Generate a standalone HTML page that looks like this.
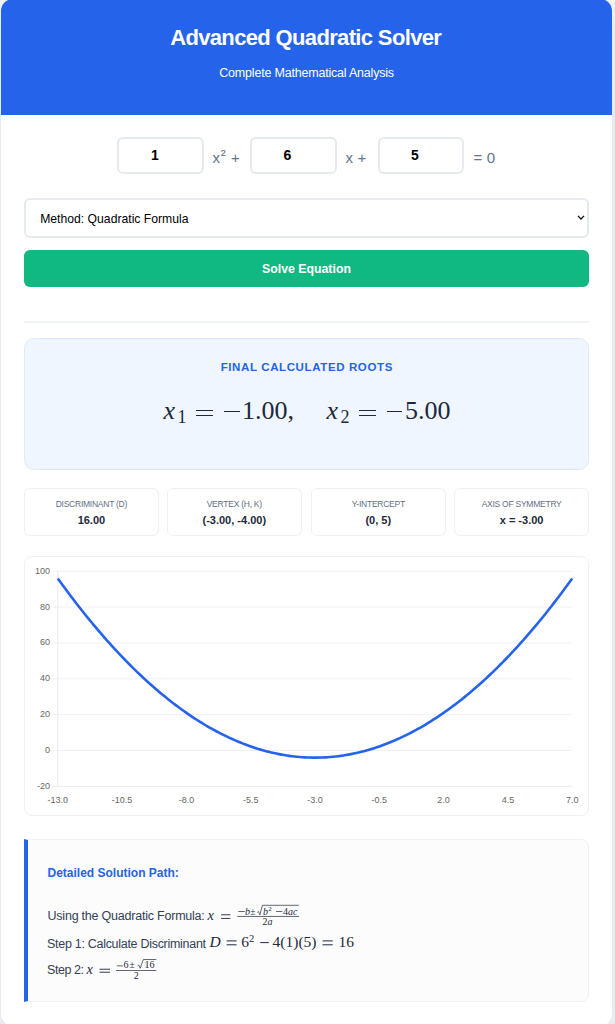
<!DOCTYPE html>
<html><head><meta charset="utf-8">
<style>
*{box-sizing:border-box;margin:0;padding:0}
html,body{width:615px;height:1024px;overflow:hidden}
body{background:#f3f4f6;font-family:"Liberation Sans",sans-serif;position:relative}
.a{position:absolute;white-space:pre}
.wrap{position:absolute;left:1px;top:-1px;width:611px;height:1027px;background:#fff;border-radius:12px;overflow:hidden;box-shadow:0 10px 25px rgba(30,41,59,0.09)}
.hdr{position:absolute;left:1px;top:-1px;width:611px;height:116.2px;background:#2563eb;border-radius:12px 12px 0 0}
.t1{left:0;width:613px;text-align:center;color:#fff}
.inp{position:absolute;top:137.3px;width:86.5px;height:37px;border:2px solid #e5eaf1;border-radius:6px;background:#fff}
.dig{font-weight:bold;font-size:14px;line-height:14px;color:#000}
.op{font-size:15px;line-height:15px;color:#64748b;letter-spacing:0.2px}
.sel{position:absolute;left:24px;top:197.6px;width:565px;height:40.3px;border:2px solid #e5eaf1;border-radius:6px;background:#fff}
.btn{position:absolute;left:24px;top:250px;width:565px;height:37px;border-radius:6px;background:#10b981}
.hr{position:absolute;left:24px;top:321.3px;width:565px;height:1.5px;background:#f0f3f7}
.roots{position:absolute;left:24px;top:338.2px;width:565px;height:131.4px;background:#eff6ff;border:1px solid #dfeafc;border-radius:10px}
.m{font-family:"Liberation Serif",serif;color:#1e293b}
.card{position:absolute;top:488.1px;width:134.6px;height:48.1px;border:1px solid #eef0f4;border-radius:6px;background:#fff}
.lbl{font-size:8.5px;line-height:8px;color:#5f6f86;text-align:center;letter-spacing:-0.25px}
.val{font-size:11px;line-height:11px;font-weight:bold;color:#1e293b;text-align:center}
.chart{position:absolute;left:24px;top:555.5px;width:565px;height:260px;border:1px solid #eef0f4;border-radius:8px;background:#fff}
.sol{position:absolute;left:24px;top:838.7px;width:565px;height:163px;background:#fcfcfd;border:1px solid #f0f1f4;border-left:4px solid #2563eb;border-radius:0 8px 8px 0}
.sh{font-size:12px;line-height:12px;font-weight:bold;color:#2563eb;letter-spacing:0px}
.st{font-size:12.5px;line-height:13px;color:#334155;letter-spacing:-0.22px}
</style></head><body>
<div class="wrap"></div>
<div class="hdr"></div>
<div class="a t1" style="top:25px;left:-0.8px;font-size:22px;line-height:26px;font-weight:bold;letter-spacing:-0.65px">Advanced Quadratic Solver</div>
<div class="a t1" style="top:65px;font-size:12.5px;line-height:16px;letter-spacing:-0.2px;padding-left:0.2px">Complete Mathematical Analysis</div>

<div class="inp" style="left:117.1px"></div>
<div class="inp" style="left:250.2px"></div>
<div class="inp" style="left:377.6px"></div>
<div class="a dig" style="left:151px;top:148px">1</div>
<div class="a dig" style="left:283.5px;top:148px">6</div>
<div class="a dig" style="left:411px;top:148px">5</div>
<div class="a op" style="left:212.5px;top:149.5px">x</div>
<div class="a op" style="left:220.8px;top:145.5px;font-size:9px;-webkit-text-stroke:0.2px #64748b">2</div>
<div class="a op" style="left:231px;top:149.5px">+</div>
<div class="a op" style="left:345.5px;top:149.5px">x +</div>
<div class="a op" style="left:473.5px;top:149.5px">= 0</div>

<div class="sel"></div>
<div class="a" style="left:40.2px;top:212.6px;font-size:12.2px;line-height:13px;color:#000">Method: Quadratic Formula</div>
<svg class="a" style="left:576.2px;top:214.3px" width="10" height="8" viewBox="0 0 10 8"><path d="M1.9 1.9 L5 5 L8.1 1.9" fill="none" stroke="#111" stroke-width="1.25"/></svg>
<div class="btn"></div>
<div class="a t1" style="top:262.6px;font-size:12.3px;line-height:13px;font-weight:bold">Solve Equation</div>
<div class="hr"></div>

<div class="roots"></div>

<div class="a" style="left:0;width:613px;text-align:center;top:361px;font-size:11.5px;line-height:12px;font-weight:bold;color:#2563eb;letter-spacing:0.62px;padding-left:0.6px">FINAL CALCULATED ROOTS</div>
<div class="a m" style="left:163.5px;top:396px;font-size:26px;line-height:30px;font-style:italic">x</div>
<div class="a m" style="left:177.5px;top:407px;font-size:18px;line-height:20px">1</div>
<div class="a" style="left:196px;top:409.6px;width:17px;height:1.2px;background:#1e293b"></div>
<div class="a" style="left:196px;top:414.6px;width:17px;height:1.2px;background:#1e293b"></div>
<div class="a" style="left:224px;top:411.3px;width:15.5px;height:1.2px;background:#1e293b"></div>
<div class="a m" style="left:242px;top:396px;font-size:26px;line-height:30px">1.00,</div>
<div class="a m" style="left:326.5px;top:396px;font-size:26px;line-height:30px;font-style:italic">x</div>
<div class="a m" style="left:340.5px;top:407px;font-size:18px;line-height:20px">2</div>
<div class="a" style="left:359px;top:409.6px;width:17px;height:1.2px;background:#1e293b"></div>
<div class="a" style="left:359px;top:414.6px;width:17px;height:1.2px;background:#1e293b"></div>
<div class="a" style="left:387px;top:411.3px;width:15px;height:1.2px;background:#1e293b"></div>
<div class="a m" style="left:405px;top:396px;font-size:26px;line-height:30px">5.00</div>


<div class="card" style="left:24.1px"></div>
<div class="card" style="left:167px"></div>
<div class="card" style="left:311px"></div>
<div class="card" style="left:454.3px"></div>
<div class="a lbl" style="left:24.1px;width:134.6px;top:500px">DISCRIMINANT (D)</div><div class="a val" style="left:24.1px;width:134.6px;top:515px">16.00</div><div class="a lbl" style="left:167px;width:134.6px;top:500px">VERTEX (H, K)</div><div class="a val" style="left:167px;width:134.6px;top:515px">(-3.00, -4.00)</div><div class="a lbl" style="left:311px;width:134.6px;top:500px">Y-INTERCEPT</div><div class="a val" style="left:311px;width:134.6px;top:515px">(0, 5)</div><div class="a lbl" style="left:454.3px;width:134.6px;top:500px">AXIS OF SYMMETRY</div><div class="a val" style="left:454.3px;width:134.6px;top:515px">x = -3.00</div>

<div class="chart"></div>
<svg class="a" style="left:24px;top:555px" width="566" height="262" viewBox="0 0 566 262">
<line x1="28" y1="16.30" x2="548.20" y2="16.30" stroke="#eef1f5" stroke-width="1"/><line x1="28" y1="52.13" x2="548.20" y2="52.13" stroke="#eef1f5" stroke-width="1"/><line x1="28" y1="87.97" x2="548.20" y2="87.97" stroke="#eef1f5" stroke-width="1"/><line x1="28" y1="123.80" x2="548.20" y2="123.80" stroke="#eef1f5" stroke-width="1"/><line x1="28" y1="159.63" x2="548.20" y2="159.63" stroke="#eef1f5" stroke-width="1"/><line x1="28" y1="195.47" x2="548.20" y2="195.47" stroke="#eef1f5" stroke-width="1"/>
<line x1="33.80" y1="16.30" x2="33.80" y2="231.30" stroke="#e6e9ee" stroke-width="1"/>
<line x1="28.00" y1="231.30" x2="548.20" y2="231.30" stroke="#e6e9ee" stroke-width="1"/>
<g font-family="Liberation Sans" font-size="9" fill="#666"><text x="26" y="18.70" text-anchor="end">100</text><text x="26" y="54.53" text-anchor="end">80</text><text x="26" y="90.37" text-anchor="end">60</text><text x="26" y="126.20" text-anchor="end">40</text><text x="26" y="162.03" text-anchor="end">20</text><text x="26" y="197.87" text-anchor="end">0</text><text x="26" y="233.70" text-anchor="end">-20</text><text x="33.80" y="248.20" text-anchor="middle">-13.0</text><text x="98.10" y="248.20" text-anchor="middle">-10.5</text><text x="162.40" y="248.20" text-anchor="middle">-8.0</text><text x="226.70" y="248.20" text-anchor="middle">-5.5</text><text x="291.00" y="248.20" text-anchor="middle">-3.0</text><text x="355.30" y="248.20" text-anchor="middle">-0.5</text><text x="419.60" y="248.20" text-anchor="middle">2.0</text><text x="483.90" y="248.20" text-anchor="middle">4.5</text><text x="548.20" y="248.20" text-anchor="middle">7.0</text></g>
<path d="M33.80,23.47 L36.37,27.03 L38.94,30.56 L41.52,34.06 L44.09,37.51 L46.66,40.94 L49.23,44.32 L51.80,47.67 L54.38,50.99 L56.95,54.27 L59.52,57.51 L62.09,60.72 L64.66,63.89 L67.24,67.02 L69.81,70.12 L72.38,73.19 L74.95,76.21 L77.52,79.21 L80.10,82.16 L82.67,85.08 L85.24,87.97 L87.81,90.82 L90.38,93.63 L92.96,96.41 L95.53,99.15 L98.10,101.85 L100.67,104.52 L103.24,107.16 L105.82,109.75 L108.39,112.32 L110.96,114.84 L113.53,117.33 L116.10,119.79 L118.68,122.21 L121.25,124.59 L123.82,126.94 L126.39,129.25 L128.96,131.52 L131.54,133.76 L134.11,135.97 L136.68,138.13 L139.25,140.27 L141.82,142.36 L144.40,144.42 L146.97,146.45 L149.54,148.44 L152.11,150.39 L154.68,152.31 L157.26,154.19 L159.83,156.03 L162.40,157.84 L164.97,159.62 L167.54,161.35 L170.12,163.06 L172.69,164.72 L175.26,166.35 L177.83,167.95 L180.40,169.51 L182.98,171.03 L185.55,172.52 L188.12,173.97 L190.69,175.38 L193.26,176.76 L195.84,178.11 L198.41,179.41 L200.98,180.69 L203.55,181.92 L206.12,183.12 L208.70,184.29 L211.27,185.42 L213.84,186.51 L216.41,187.57 L218.98,188.59 L221.56,189.57 L224.13,190.52 L226.70,191.44 L229.27,192.31 L231.84,193.16 L234.42,193.96 L236.99,194.73 L239.56,195.47 L242.13,196.17 L244.70,196.83 L247.28,197.46 L249.85,198.05 L252.42,198.60 L254.99,199.12 L257.56,199.61 L260.14,200.05 L262.71,200.47 L265.28,200.84 L267.85,201.18 L270.42,201.49 L273.00,201.76 L275.57,201.99 L278.14,202.19 L280.71,202.35 L283.28,202.47 L285.86,202.56 L288.43,202.62 L291.00,202.63 L293.57,202.62 L296.14,202.56 L298.72,202.47 L301.29,202.35 L303.86,202.19 L306.43,201.99 L309.00,201.76 L311.58,201.49 L314.15,201.18 L316.72,200.84 L319.29,200.47 L321.86,200.05 L324.44,199.61 L327.01,199.12 L329.58,198.60 L332.15,198.05 L334.72,197.46 L337.30,196.83 L339.87,196.17 L342.44,195.47 L345.01,194.73 L347.58,193.96 L350.16,193.16 L352.73,192.31 L355.30,191.44 L357.87,190.52 L360.44,189.57 L363.02,188.59 L365.59,187.57 L368.16,186.51 L370.73,185.42 L373.30,184.29 L375.88,183.12 L378.45,181.92 L381.02,180.69 L383.59,179.41 L386.16,178.11 L388.74,176.76 L391.31,175.38 L393.88,173.97 L396.45,172.52 L399.02,171.03 L401.60,169.51 L404.17,167.95 L406.74,166.35 L409.31,164.72 L411.88,163.06 L414.46,161.35 L417.03,159.62 L419.60,157.84 L422.17,156.03 L424.74,154.19 L427.32,152.31 L429.89,150.39 L432.46,148.44 L435.03,146.45 L437.60,144.42 L440.18,142.36 L442.75,140.27 L445.32,138.13 L447.89,135.97 L450.46,133.76 L453.04,131.52 L455.61,129.25 L458.18,126.94 L460.75,124.59 L463.32,122.21 L465.90,119.79 L468.47,117.33 L471.04,114.84 L473.61,112.32 L476.18,109.75 L478.76,107.16 L481.33,104.52 L483.90,101.85 L486.47,99.15 L489.04,96.41 L491.62,93.63 L494.19,90.82 L496.76,87.97 L499.33,85.08 L501.90,82.16 L504.48,79.21 L507.05,76.21 L509.62,73.19 L512.19,70.12 L514.76,67.02 L517.34,63.89 L519.91,60.72 L522.48,57.51 L525.05,54.27 L527.62,50.99 L530.20,47.67 L532.77,44.32 L535.34,40.94 L537.91,37.51 L540.48,34.06 L543.06,30.56 L545.63,27.03 L548.20,23.47" fill="none" stroke="#2563eb" stroke-width="2.6" stroke-linejoin="round"/>
</svg>

<div class="sol"></div>
<div class="a sh" style="left:47.5px;top:866.7px">Detailed Solution Path:</div>
<div class="a st" style="left:47.5px;top:910px">Using the Quadratic Formula:</div>
<div class="a st" style="left:47px;top:937.5px;letter-spacing:-0.29px">Step 1: Calculate Discriminant</div>
<div class="a st" style="left:47px;top:964px;letter-spacing:-0.45px">Step 2:</div>
<svg class="a" style="left:0;top:0" width="615" height="1024" viewBox="0 0 615 1024"><g font-family="Liberation Serif" fill="#1e293b"><text x="207.60" y="919.80" font-size="14.5" font-style="italic">x</text><rect x="221.10" y="914.35" width="9.30" height="0.9"/><rect x="221.10" y="917.95" width="9.30" height="0.9"/><rect x="237.20" y="915.95" width="61.90" height="0.7"/><rect x="238.30" y="911.05" width="6.50" height="0.7"/><text x="245.00" y="914.80" font-size="10" font-style="italic">b</text><text x="250.20" y="914.80" font-size="9.5">&#177;</text><path d="M257.30 912.40 L258.50 911.60 L259.90 914.80 L262.40 905.30 L298.80 905.30" fill="none" stroke="#1e293b" stroke-width="0.7"/><text x="263.00" y="914.80" font-size="10" font-style="italic">b</text><text x="268.30" y="910.80" font-size="7">2</text><rect x="276.10" y="911.05" width="6.30" height="0.7"/><text x="283.00" y="914.80" font-size="10">4<tspan font-style="italic">ac</tspan></text><text x="262.40" y="924.80" font-size="10">2<tspan font-style="italic">a</tspan></text><text x="209.60" y="947.10" font-size="15.5" font-style="italic">D</text><rect x="226.60" y="940.40" width="10.00" height="1.0"/><rect x="226.60" y="944.30" width="10.00" height="1.0"/><text x="241.30" y="947.20" font-size="15.5">6</text><text x="249.00" y="941.60" font-size="10.5">2</text><rect x="260.30" y="942.10" width="8.50" height="1.0"/><text x="272.60" y="947.20" font-size="15.5">4(1)(5)</text><rect x="322.50" y="940.40" width="10.20" height="1.0"/><rect x="322.50" y="944.30" width="10.20" height="1.0"/><text x="338.40" y="947.20" font-size="15.5">16</text><text x="86.40" y="973.90" font-size="14.5" font-style="italic">x</text><rect x="99.50" y="968.75" width="10.50" height="0.9"/><rect x="99.50" y="971.75" width="10.50" height="0.9"/><rect x="115.90" y="970.15" width="40.40" height="0.7"/><rect x="116.80" y="965.55" width="6.10" height="0.7"/><text x="123.40" y="968.30" font-size="10">6</text><text x="129.60" y="968.30" font-size="9.5">&#177;</text><path d="M137.60 965.90 L138.80 965.10 L140.20 968.30 L143.40 959.50 L156.30 959.50" fill="none" stroke="#1e293b" stroke-width="0.7"/><text x="144.40" y="968.30" font-size="10">16</text><text x="133.80" y="978.70" font-size="10">2</text></g></svg>
</body></html>
